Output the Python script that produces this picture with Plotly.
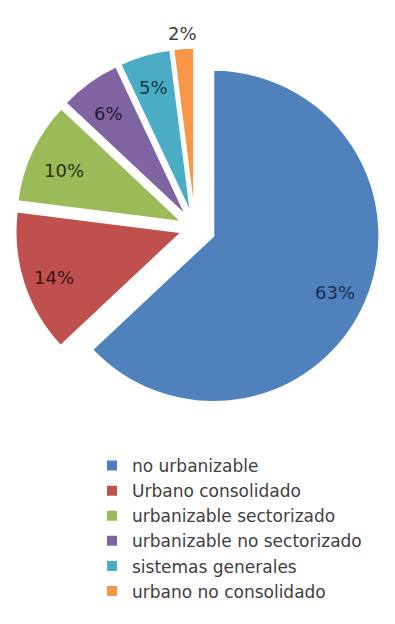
import math
import plotly.graph_objects as go

# Land classification shares (%)
categories = [
    "no urbanizable",
    "Urbano consolidado",
    "urbanizable sectorizado",
    "urbanizable no sectorizado",
    "sistemas generales",
    "urbano no consolidado",
]
shares = [63, 14, 10, 6, 5, 2]

# Styling
slice_colors = ["#4F81BD", "#C0504D", "#9BBB59", "#8064A2", "#4BACC6", "#F79646"]
label_colors = ["#1d2f4d", "#3a1414", "#27310f", "#261a3a", "#123842", "#404040"]
explode = [0.12, 0.085, 0.085, 0.085, 0.085, 0.085]
label_radius = [0.80, 0.81, 0.79, 0.80, 0.82, 1.11]  # label distance, in radii

W, H = 395, 624
cx, cy, box = 195, 228, 372  # pie centre and bounding box (px)
FONT = "DejaVu Sans, sans-serif"

dom_x = [(cx - box / 2) / W, (cx + box / 2) / W]
dom_y = [1 - (cy + box / 2) / H, 1 - (cy - box / 2) / H]

fig = go.Figure(
    go.Pie(
        labels=categories,
        values=shares,
        sort=False,
        direction="clockwise",
        rotation=0,
        pull=explode,
        marker=dict(colors=slice_colors, line=dict(color="white", width=2)),
        textinfo="none",
        hoverinfo="label+percent",
        domain=dict(x=dom_x, y=dom_y),
    )
)

# Percentage labels placed along each slice's bisector (same geometry as the pie)
radius = box / (2 + 2 * max(explode))
total = sum(shares)
start = 0.0
for val, pull, k, col in zip(shares, explode, label_radius, label_colors):
    mid = 2 * math.pi * (start + val / 2) / total
    start += val
    dx, dy = math.sin(mid), -math.cos(mid)
    px = cx + (pull + k) * radius * dx
    py = cy + (pull + k) * radius * dy
    fig.add_annotation(
        x=px / W,
        y=1 - py / H,
        xref="paper",
        yref="paper",
        xanchor="center",
        yanchor="middle",
        yshift=-4,
        text=f"{round(100 * val / total)}%",
        showarrow=False,
        font=dict(family=FONT, size=18, color=col),
    )

fig.update_layout(
    width=W,
    height=H,
    margin=dict(l=0, r=0, t=0, b=0, autoexpand=False),
    paper_bgcolor="white",
    plot_bgcolor="white",
    showlegend=True,
    legend=dict(
        x=92 / W,
        xanchor="left",
        y=1 - 448 / H,
        yanchor="top",
        font=dict(family=FONT, size=17, color="#404040"),
        itemwidth=30,
        tracegroupgap=0,
        bgcolor="rgba(0,0,0,0)",
    ),
)

fig.write_html("out.html")
